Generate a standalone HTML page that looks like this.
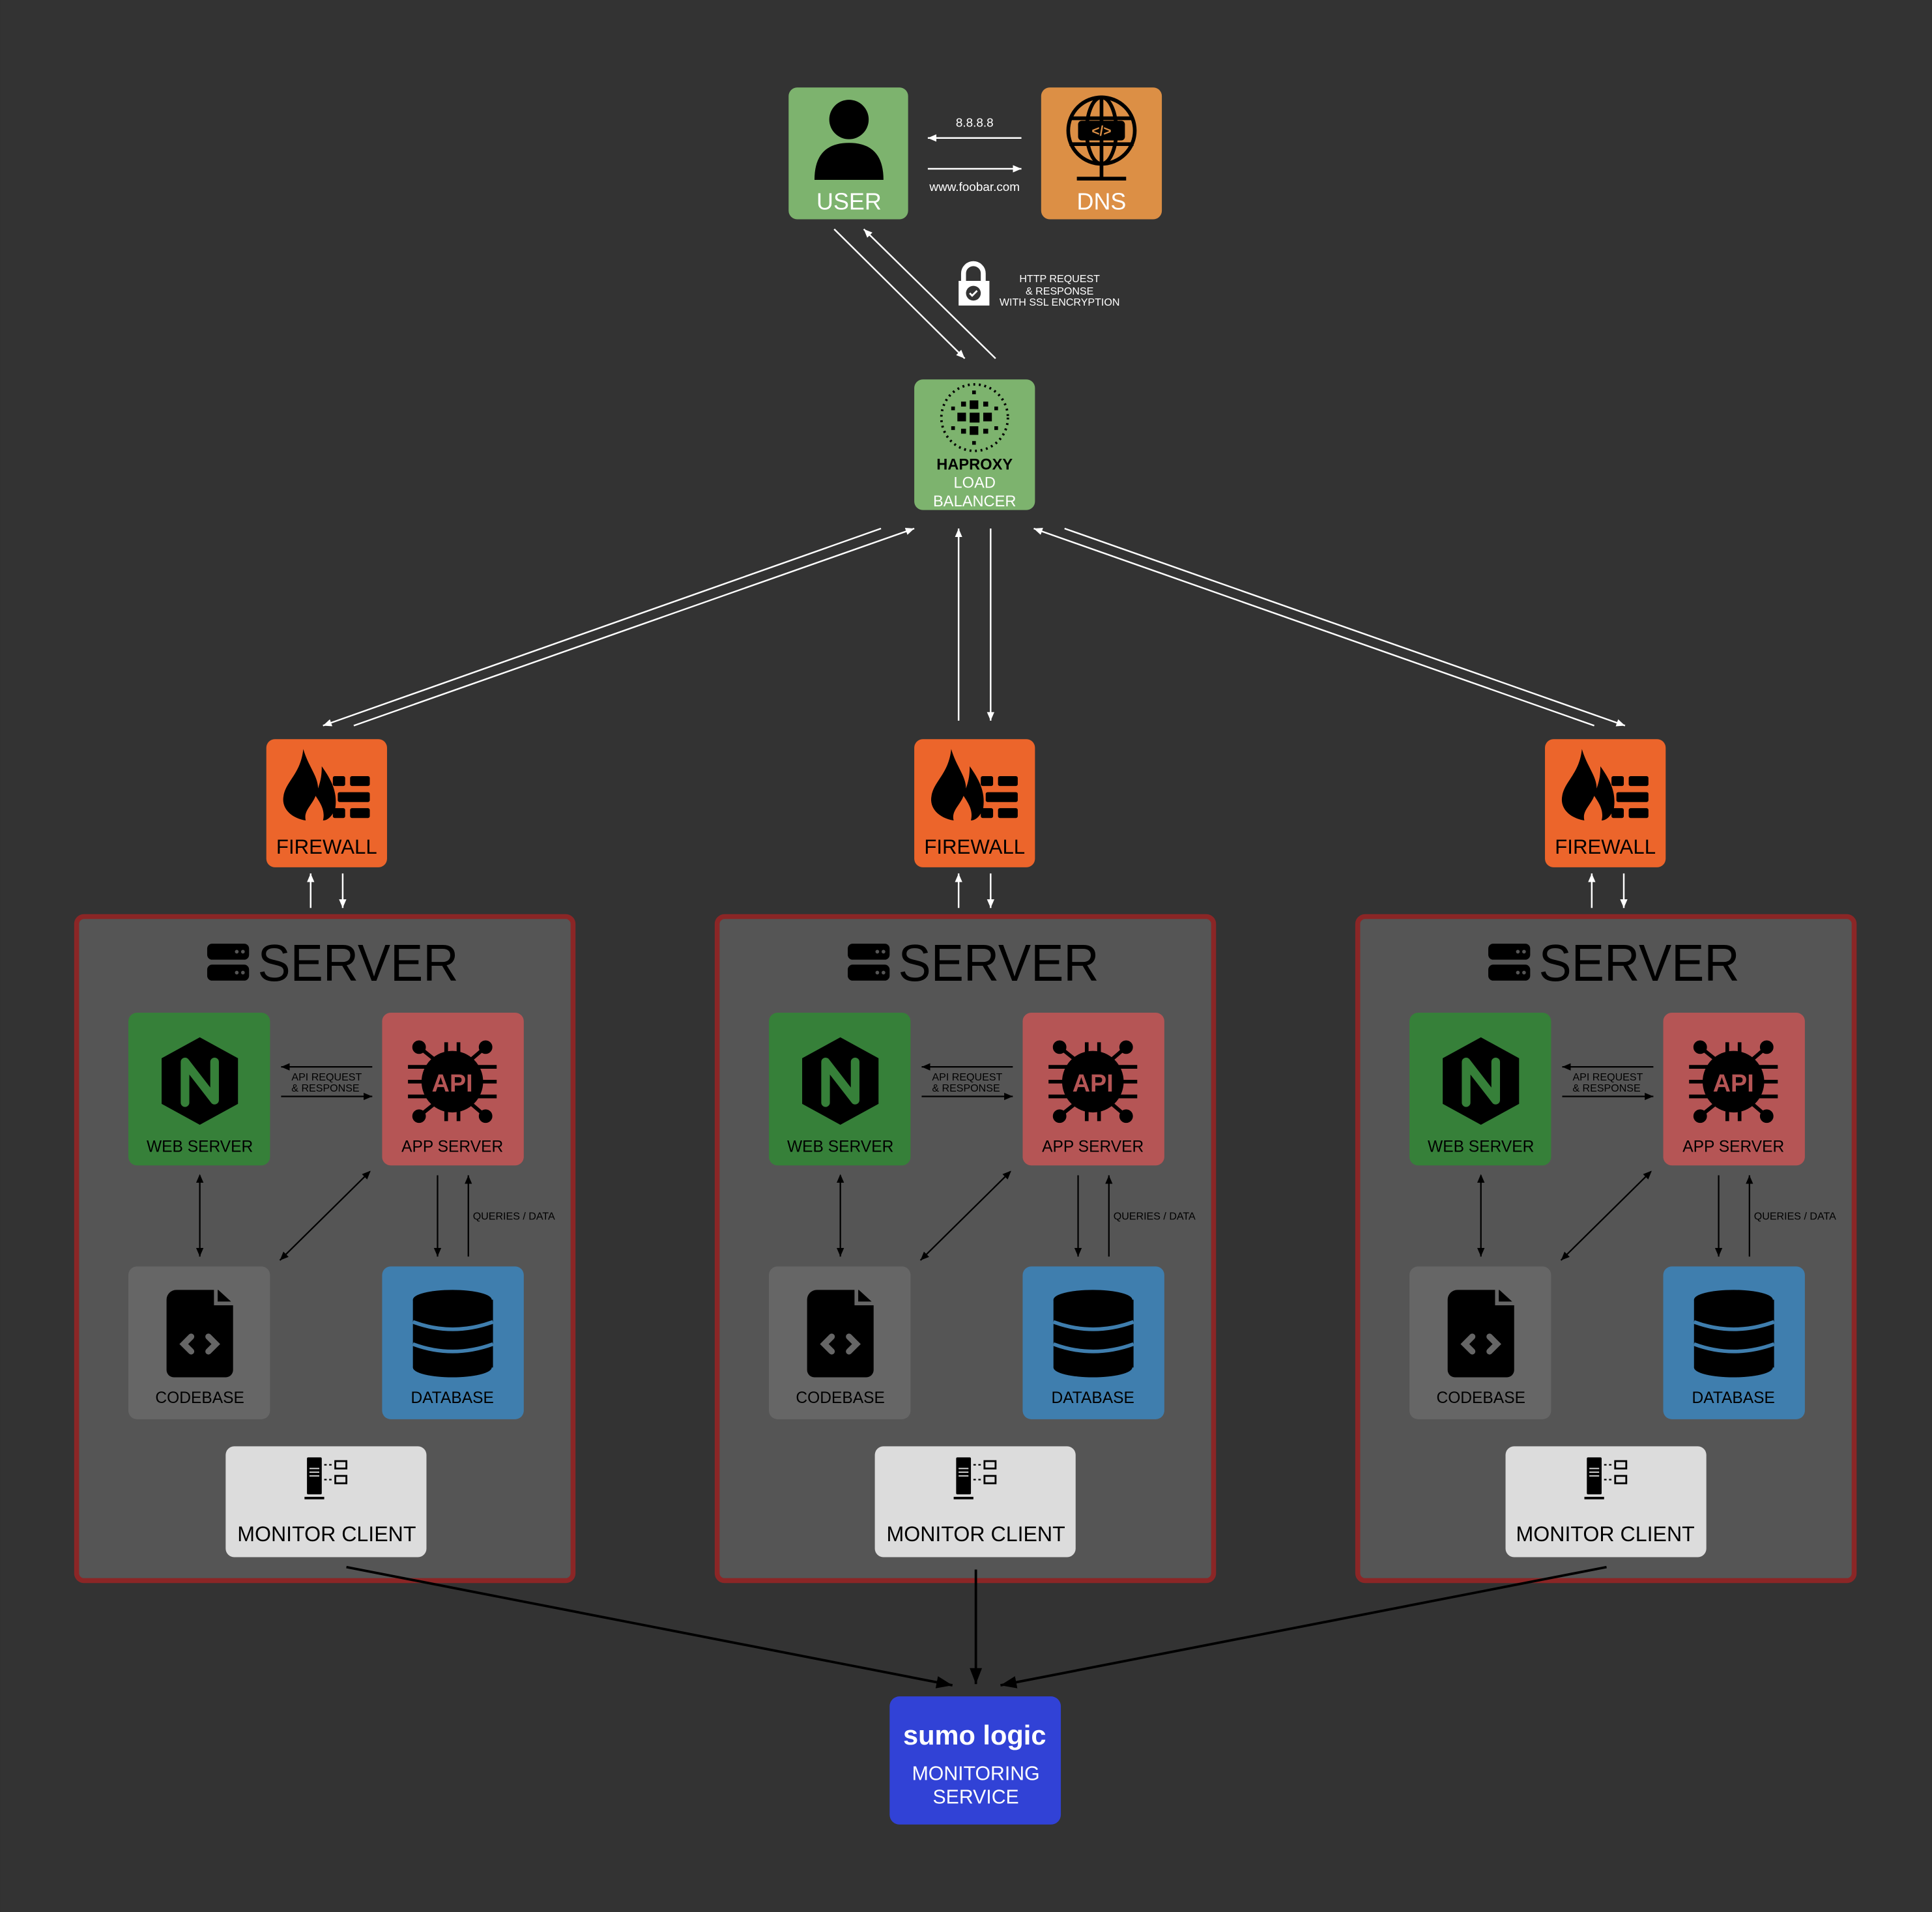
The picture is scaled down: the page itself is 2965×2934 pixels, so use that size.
<!DOCTYPE html>
<html><head><meta charset="utf-8"><style>html,body{margin:0;padding:0;background:#333}svg{display:block}text{font-family:"Liberation Sans",sans-serif}</style></head>
<body>
<svg width="2965" height="2934" viewBox="0 0 1568 1552" xmlns="http://www.w3.org/2000/svg">
<defs>
<marker id="aw" markerUnits="userSpaceOnUse" markerWidth="8" markerHeight="8" refX="7" refY="4" orient="auto"><path d="M0,1 L7,4 L0,7 Z" fill="#fff"/></marker>
<marker id="ab" markerUnits="userSpaceOnUse" markerWidth="8" markerHeight="8" refX="7" refY="4" orient="auto"><path d="M0,1 L7,4 L0,7 Z" fill="#000"/></marker>
<marker id="abS" markerUnits="userSpaceOnUse" markerWidth="8" markerHeight="8" refX="1" refY="4" orient="auto"><path d="M7,1 L0,4 L7,7 Z" fill="#000"/></marker>
<marker id="abig" markerUnits="userSpaceOnUse" markerWidth="14" markerHeight="12" refX="13" refY="6" orient="auto"><path d="M0,1 L13,6 L0,11 Z" fill="#000"/></marker>
</defs>
<rect width="1568" height="1552" fill="#333"/>

<!-- USER -->
<rect x="640" y="71" width="97" height="107" rx="7" fill="#7db36e"/>
<circle cx="689" cy="97" r="16" fill="#000"/>
<path d="M661,146 Q661,116 689,116 Q717,116 717,146 Z" fill="#000"/>
<text x="689" y="170" font-size="19" fill="#fff" text-anchor="middle">USER</text>
<!-- DNS -->
<rect x="845" y="71" width="98" height="107" rx="7" fill="#dc8f45"/>
<g stroke="#000" stroke-width="3" fill="none">
<circle cx="894" cy="106" r="27"/><ellipse cx="894" cy="106" rx="12" ry="27"/><line x1="894" y1="79" x2="894" y2="145"/><line x1="868" y1="96" x2="920" y2="96"/><line x1="868" y1="117" x2="920" y2="117"/><line x1="874" y1="145" x2="914" y2="145"/></g>
<rect x="875" y="98" width="38" height="16" rx="3" fill="#000"/>
<text x="894" y="110" font-size="11" fill="#dc8f45" text-anchor="middle" font-weight="bold">&lt;/&gt;</text>
<text x="894" y="170" font-size="19" fill="#fff" text-anchor="middle">DNS</text>

<text x="791" y="103" font-size="10" fill="#fff" text-anchor="middle">8.8.8.8</text>
<line x1="829" y1="112" x2="753" y2="112" stroke="#fff" stroke-width="1.3" marker-end="url(#aw)"/>
<line x1="753" y1="137" x2="829" y2="137" stroke="#fff" stroke-width="1.3" marker-end="url(#aw)"/>
<text x="791" y="155" font-size="10" fill="#fff" text-anchor="middle">www.foobar.com</text>

<line x1="677" y1="186" x2="783" y2="291" stroke="#fff" stroke-width="1.3" marker-end="url(#aw)"/>
<line x1="808" y1="291" x2="701" y2="186" stroke="#fff" stroke-width="1.3" marker-end="url(#aw)"/>
<!-- lock -->
<path d="M782,228 V222 A8,8 0 0 1 798,222 V228" stroke="#fff" stroke-width="4" fill="none"/>
<rect x="778" y="228" width="25" height="20" fill="#fff"/>
<circle cx="790" cy="238" r="6" fill="#333"/>
<path d="M787,238 l2,2 l4,-4" stroke="#fff" stroke-width="1.5" fill="none"/>
<g font-size="8.5" fill="#fff" text-anchor="middle"><text x="860" y="229">HTTP REQUEST</text><text x="860" y="239">&amp; RESPONSE</text><text x="860" y="248">WITH SSL ENCRYPTION</text></g>

<!-- LB -->
<rect x="742" y="308" width="98" height="106" rx="7" fill="#7db36e"/>
<circle cx="791" cy="339" r="27" fill="none" stroke="#000" stroke-width="2" stroke-dasharray="1.5 3"/>
<g fill="#000"><rect x="787" y="335" width="8" height="8"/><rect x="777" y="335" width="7" height="7"/><rect x="798" y="335" width="7" height="7"/><rect x="787" y="325" width="7" height="7"/><rect x="787" y="346" width="7" height="7"/><rect x="780" y="326" width="4" height="4"/><rect x="798" y="326" width="4" height="4"/><rect x="780" y="348" width="4" height="4"/><rect x="798" y="348" width="4" height="4"/><rect x="772" y="330" width="3" height="3"/><rect x="807" y="330" width="3" height="3"/><rect x="772" y="346" width="3" height="3"/><rect x="807" y="346" width="3" height="3"/><rect x="789" y="317" width="3" height="3"/><rect x="789" y="358" width="3" height="3"/></g>
<text x="791" y="381" font-size="12.5" font-weight="bold" fill="#000" text-anchor="middle">HAPROXY</text>
<text x="791" y="396" font-size="12.5" fill="#fff" text-anchor="middle">LOAD</text>
<text x="791" y="411" font-size="12.5" fill="#fff" text-anchor="middle">BALANCER</text>

<g stroke="#fff" stroke-width="1.3">
<line x1="715" y1="429" x2="262" y2="589" marker-end="url(#aw)"/>
<line x1="287" y1="589" x2="742" y2="429" marker-end="url(#aw)"/>
<line x1="778" y1="585" x2="778" y2="429" marker-end="url(#aw)"/>
<line x1="804" y1="429" x2="804" y2="585" marker-end="url(#aw)"/>
<line x1="864" y1="429" x2="1319" y2="589" marker-end="url(#aw)"/>
<line x1="1294" y1="589" x2="839" y2="429" marker-end="url(#aw)"/>
<line x1="252" y1="737" x2="252" y2="709" marker-end="url(#aw)"/>
<line x1="278" y1="709" x2="278" y2="737" marker-end="url(#aw)"/>
<line x1="778" y1="737" x2="778" y2="709" marker-end="url(#aw)"/>
<line x1="804" y1="709" x2="804" y2="737" marker-end="url(#aw)"/>
<line x1="1292" y1="737" x2="1292" y2="709" marker-end="url(#aw)"/>
<line x1="1318" y1="709" x2="1318" y2="737" marker-end="url(#aw)"/>
</g>

<!-- Firewalls -->
<g transform="translate(216,600)">
<rect width="98" height="104" rx="7" fill="#ec652b"/>
<path d="M30,8 C34,22 42,30 42,40 C44,34 45,30 45,22 C52,32 58,42 56,56 C54,62 50,66 46,66 C48,58 44,52 40,46 C37,54 30,58 32,66 C20,64 12,56 14,46 C16,34 28,28 30,8 Z" fill="#000"/>
<g fill="#000"><rect x="54" y="30" width="10" height="8" rx="1.5"/><rect x="68" y="30" width="16" height="8" rx="1.5"/><rect x="58" y="43" width="26" height="8" rx="1.5"/><rect x="54" y="56" width="10" height="8" rx="1.5"/><rect x="68" y="56" width="16" height="8" rx="1.5"/></g>
<text x="49" y="93" font-size="16.5" fill="#000" text-anchor="middle">FIREWALL</text>
</g>
<g transform="translate(742,600)">
<rect width="98" height="104" rx="7" fill="#ec652b"/>
<path d="M30,8 C34,22 42,30 42,40 C44,34 45,30 45,22 C52,32 58,42 56,56 C54,62 50,66 46,66 C48,58 44,52 40,46 C37,54 30,58 32,66 C20,64 12,56 14,46 C16,34 28,28 30,8 Z" fill="#000"/>
<g fill="#000"><rect x="54" y="30" width="10" height="8" rx="1.5"/><rect x="68" y="30" width="16" height="8" rx="1.5"/><rect x="58" y="43" width="26" height="8" rx="1.5"/><rect x="54" y="56" width="10" height="8" rx="1.5"/><rect x="68" y="56" width="16" height="8" rx="1.5"/></g>
<text x="49" y="93" font-size="16.5" fill="#000" text-anchor="middle">FIREWALL</text>
</g>
<g transform="translate(1254,600)">
<rect width="98" height="104" rx="7" fill="#ec652b"/>
<path d="M30,8 C34,22 42,30 42,40 C44,34 45,30 45,22 C52,32 58,42 56,56 C54,62 50,66 46,66 C48,58 44,52 40,46 C37,54 30,58 32,66 C20,64 12,56 14,46 C16,34 28,28 30,8 Z" fill="#000"/>
<g fill="#000"><rect x="54" y="30" width="10" height="8" rx="1.5"/><rect x="68" y="30" width="16" height="8" rx="1.5"/><rect x="58" y="43" width="26" height="8" rx="1.5"/><rect x="54" y="56" width="10" height="8" rx="1.5"/><rect x="68" y="56" width="16" height="8" rx="1.5"/></g>
<text x="49" y="93" font-size="16.5" fill="#000" text-anchor="middle">FIREWALL</text>
</g>

<!-- SERVER 1 -->
<g>
<rect x="62" y="744" width="403" height="539" rx="6" fill="#555" stroke="#8b2626" stroke-width="4"/>
<rect x="168" y="766" width="34" height="13" rx="4" fill="#000"/><rect x="168" y="783" width="34" height="13" rx="4" fill="#000"/>
<g fill="#555"><circle cx="192" cy="772.5" r="1.5"/><circle cx="197" cy="772.5" r="1.5"/><circle cx="192" cy="789.5" r="1.5"/><circle cx="197" cy="789.5" r="1.5"/></g>
<text x="209" y="796" font-size="42" fill="#000" textLength="163" lengthAdjust="spacingAndGlyphs">SERVER</text>
<rect x="104" y="822" width="115" height="124" rx="7" fill="#368039"/>
<path d="M162,842 L193,859 L193,896 L162,913 L131,896 L131,859 Z" fill="#000"/>
<path d="M150,895 V862 L174,893 V862" stroke="#368039" stroke-width="7" fill="none" stroke-linecap="round" stroke-linejoin="round"/>
<text x="162" y="935" font-size="13" fill="#000" text-anchor="middle">WEB SERVER</text>
<rect x="310" y="822" width="115" height="124" rx="7" fill="#b55555"/>
<g stroke="#000" stroke-width="3" fill="#000"><line x1="331" y1="866" x2="403" y2="866"/><line x1="331" y1="878" x2="403" y2="878"/><line x1="331" y1="890" x2="403" y2="890"/><line x1="362" y1="846" x2="362" y2="910"/><line x1="372" y1="846" x2="372" y2="910"/><circle cx="340" cy="850" r="4"/><circle cx="394" cy="850" r="4"/><circle cx="340" cy="906" r="4"/><circle cx="394" cy="906" r="4"/><line x1="340" y1="850" x2="355" y2="862"/><line x1="394" y1="850" x2="380" y2="862"/><line x1="340" y1="906" x2="355" y2="894"/><line x1="394" y1="906" x2="380" y2="894"/></g>
<circle cx="367" cy="878" r="25" fill="#000"/>
<text x="367" y="886" font-size="20" font-weight="bold" fill="#b55555" text-anchor="middle">API</text>
<text x="367" y="935" font-size="13" fill="#000" text-anchor="middle">APP SERVER</text>
<rect x="104" y="1028" width="115" height="124" rx="7" fill="#666"/>
<path d="M143,1047 H177 L189,1058 V1112 A6,6 0 0 1 183,1118 H141 A6,6 0 0 1 135,1112 V1055 A8,8 0 0 1 143,1047 Z" fill="#000"/>
<path d="M175,1046 V1058 H190" stroke="#666" stroke-width="3" fill="none"/>
<path d="M155,1085 l-6,6 l6,6 M169,1085 l6,6 l-6,6" stroke="#666" stroke-width="5" fill="none" stroke-linecap="round"/>
<text x="162" y="1139" font-size="13" fill="#000" text-anchor="middle">CODEBASE</text>
<rect x="310" y="1028" width="115" height="124" rx="7" fill="#3f7eae"/>
<rect x="335" y="1055" width="65" height="55" fill="#000"/>
<ellipse cx="367" cy="1055" rx="32" ry="8" fill="#000"/>
<ellipse cx="367" cy="1110" rx="32" ry="8" fill="#000"/>
<path d="M335,1073 Q367,1085 400,1073 M335,1091 Q367,1103 400,1091" stroke="#3f7eae" stroke-width="3" fill="none"/>
<text x="367" y="1139" font-size="13" fill="#000" text-anchor="middle">DATABASE</text>
<rect x="183" y="1174" width="163" height="90" rx="7" fill="#dcdcdc"/>
<rect x="249" y="1183" width="12" height="30" rx="1" fill="#000"/><rect x="247" y="1215" width="16" height="2" fill="#000"/>
<g stroke="#dcdcdc" stroke-width="1"><line x1="251" y1="1192" x2="259" y2="1192"/><line x1="251" y1="1195" x2="259" y2="1195"/><line x1="251" y1="1198" x2="259" y2="1198"/></g>
<rect x="272" y="1186" width="9" height="6" fill="none" stroke="#000" stroke-width="1.5"/><rect x="272" y="1198" width="9" height="6" fill="none" stroke="#000" stroke-width="1.5"/>
<path d="M263,1189 h8 M263,1201 h8" stroke="#000" stroke-width="1.2" stroke-dasharray="2 2"/>
<text x="265" y="1251" font-size="17" fill="#000" text-anchor="middle">MONITOR CLIENT</text>
<g stroke="#000" stroke-width="1.2">
<line x1="302" y1="866" x2="228" y2="866" marker-end="url(#ab)"/>
<line x1="228" y1="890" x2="302" y2="890" marker-end="url(#ab)"/>
<line x1="162" y1="954" x2="162" y2="1020" marker-start="url(#abS)" marker-end="url(#ab)"/>
<line x1="300" y1="951" x2="227" y2="1023" marker-start="url(#abS)" marker-end="url(#ab)"/>
<line x1="355" y1="954" x2="355" y2="1020" marker-end="url(#ab)"/>
<line x1="380" y1="1020" x2="380" y2="954" marker-end="url(#ab)"/>
</g>
<g font-size="8.5" fill="#000" text-anchor="middle"><text x="265" y="877">API REQUEST</text><text x="264" y="886">&amp; RESPONSE</text></g>
<text x="417" y="990" font-size="8.5" fill="#000" text-anchor="middle">QUERIES / DATA</text>
</g>

<!-- SERVER 2 -->
<g transform="translate(520,0)">
<rect x="62" y="744" width="403" height="539" rx="6" fill="#555" stroke="#8b2626" stroke-width="4"/>
<rect x="168" y="766" width="34" height="13" rx="4" fill="#000"/><rect x="168" y="783" width="34" height="13" rx="4" fill="#000"/>
<g fill="#555"><circle cx="192" cy="772.5" r="1.5"/><circle cx="197" cy="772.5" r="1.5"/><circle cx="192" cy="789.5" r="1.5"/><circle cx="197" cy="789.5" r="1.5"/></g>
<text x="209" y="796" font-size="42" fill="#000" textLength="163" lengthAdjust="spacingAndGlyphs">SERVER</text>
<rect x="104" y="822" width="115" height="124" rx="7" fill="#368039"/>
<path d="M162,842 L193,859 L193,896 L162,913 L131,896 L131,859 Z" fill="#000"/>
<path d="M150,895 V862 L174,893 V862" stroke="#368039" stroke-width="7" fill="none" stroke-linecap="round" stroke-linejoin="round"/>
<text x="162" y="935" font-size="13" fill="#000" text-anchor="middle">WEB SERVER</text>
<rect x="310" y="822" width="115" height="124" rx="7" fill="#b55555"/>
<g stroke="#000" stroke-width="3" fill="#000"><line x1="331" y1="866" x2="403" y2="866"/><line x1="331" y1="878" x2="403" y2="878"/><line x1="331" y1="890" x2="403" y2="890"/><line x1="362" y1="846" x2="362" y2="910"/><line x1="372" y1="846" x2="372" y2="910"/><circle cx="340" cy="850" r="4"/><circle cx="394" cy="850" r="4"/><circle cx="340" cy="906" r="4"/><circle cx="394" cy="906" r="4"/><line x1="340" y1="850" x2="355" y2="862"/><line x1="394" y1="850" x2="380" y2="862"/><line x1="340" y1="906" x2="355" y2="894"/><line x1="394" y1="906" x2="380" y2="894"/></g>
<circle cx="367" cy="878" r="25" fill="#000"/>
<text x="367" y="886" font-size="20" font-weight="bold" fill="#b55555" text-anchor="middle">API</text>
<text x="367" y="935" font-size="13" fill="#000" text-anchor="middle">APP SERVER</text>
<rect x="104" y="1028" width="115" height="124" rx="7" fill="#666"/>
<path d="M143,1047 H177 L189,1058 V1112 A6,6 0 0 1 183,1118 H141 A6,6 0 0 1 135,1112 V1055 A8,8 0 0 1 143,1047 Z" fill="#000"/>
<path d="M175,1046 V1058 H190" stroke="#666" stroke-width="3" fill="none"/>
<path d="M155,1085 l-6,6 l6,6 M169,1085 l6,6 l-6,6" stroke="#666" stroke-width="5" fill="none" stroke-linecap="round"/>
<text x="162" y="1139" font-size="13" fill="#000" text-anchor="middle">CODEBASE</text>
<rect x="310" y="1028" width="115" height="124" rx="7" fill="#3f7eae"/>
<rect x="335" y="1055" width="65" height="55" fill="#000"/>
<ellipse cx="367" cy="1055" rx="32" ry="8" fill="#000"/>
<ellipse cx="367" cy="1110" rx="32" ry="8" fill="#000"/>
<path d="M335,1073 Q367,1085 400,1073 M335,1091 Q367,1103 400,1091" stroke="#3f7eae" stroke-width="3" fill="none"/>
<text x="367" y="1139" font-size="13" fill="#000" text-anchor="middle">DATABASE</text>
<rect x="190" y="1174" width="163" height="90" rx="7" fill="#dcdcdc"/>
<rect x="256" y="1183" width="12" height="30" rx="1" fill="#000"/><rect x="254" y="1215" width="16" height="2" fill="#000"/>
<g stroke="#dcdcdc" stroke-width="1"><line x1="258" y1="1192" x2="266" y2="1192"/><line x1="258" y1="1195" x2="266" y2="1195"/><line x1="258" y1="1198" x2="266" y2="1198"/></g>
<rect x="279" y="1186" width="9" height="6" fill="none" stroke="#000" stroke-width="1.5"/><rect x="279" y="1198" width="9" height="6" fill="none" stroke="#000" stroke-width="1.5"/>
<path d="M270,1189 h8 M270,1201 h8" stroke="#000" stroke-width="1.2" stroke-dasharray="2 2"/>
<text x="272" y="1251" font-size="17" fill="#000" text-anchor="middle">MONITOR CLIENT</text>
<g stroke="#000" stroke-width="1.2">
<line x1="302" y1="866" x2="228" y2="866" marker-end="url(#ab)"/>
<line x1="228" y1="890" x2="302" y2="890" marker-end="url(#ab)"/>
<line x1="162" y1="954" x2="162" y2="1020" marker-start="url(#abS)" marker-end="url(#ab)"/>
<line x1="300" y1="951" x2="227" y2="1023" marker-start="url(#abS)" marker-end="url(#ab)"/>
<line x1="355" y1="954" x2="355" y2="1020" marker-end="url(#ab)"/>
<line x1="380" y1="1020" x2="380" y2="954" marker-end="url(#ab)"/>
</g>
<g font-size="8.5" fill="#000" text-anchor="middle"><text x="265" y="877">API REQUEST</text><text x="264" y="886">&amp; RESPONSE</text></g>
<text x="417" y="990" font-size="8.5" fill="#000" text-anchor="middle">QUERIES / DATA</text>
</g>

<!-- SERVER 3 -->
<g transform="translate(1040,0)">
<rect x="62" y="744" width="403" height="539" rx="6" fill="#555" stroke="#8b2626" stroke-width="4"/>
<rect x="168" y="766" width="34" height="13" rx="4" fill="#000"/><rect x="168" y="783" width="34" height="13" rx="4" fill="#000"/>
<g fill="#555"><circle cx="192" cy="772.5" r="1.5"/><circle cx="197" cy="772.5" r="1.5"/><circle cx="192" cy="789.5" r="1.5"/><circle cx="197" cy="789.5" r="1.5"/></g>
<text x="209" y="796" font-size="42" fill="#000" textLength="163" lengthAdjust="spacingAndGlyphs">SERVER</text>
<rect x="104" y="822" width="115" height="124" rx="7" fill="#368039"/>
<path d="M162,842 L193,859 L193,896 L162,913 L131,896 L131,859 Z" fill="#000"/>
<path d="M150,895 V862 L174,893 V862" stroke="#368039" stroke-width="7" fill="none" stroke-linecap="round" stroke-linejoin="round"/>
<text x="162" y="935" font-size="13" fill="#000" text-anchor="middle">WEB SERVER</text>
<rect x="310" y="822" width="115" height="124" rx="7" fill="#b55555"/>
<g stroke="#000" stroke-width="3" fill="#000"><line x1="331" y1="866" x2="403" y2="866"/><line x1="331" y1="878" x2="403" y2="878"/><line x1="331" y1="890" x2="403" y2="890"/><line x1="362" y1="846" x2="362" y2="910"/><line x1="372" y1="846" x2="372" y2="910"/><circle cx="340" cy="850" r="4"/><circle cx="394" cy="850" r="4"/><circle cx="340" cy="906" r="4"/><circle cx="394" cy="906" r="4"/><line x1="340" y1="850" x2="355" y2="862"/><line x1="394" y1="850" x2="380" y2="862"/><line x1="340" y1="906" x2="355" y2="894"/><line x1="394" y1="906" x2="380" y2="894"/></g>
<circle cx="367" cy="878" r="25" fill="#000"/>
<text x="367" y="886" font-size="20" font-weight="bold" fill="#b55555" text-anchor="middle">API</text>
<text x="367" y="935" font-size="13" fill="#000" text-anchor="middle">APP SERVER</text>
<rect x="104" y="1028" width="115" height="124" rx="7" fill="#666"/>
<path d="M143,1047 H177 L189,1058 V1112 A6,6 0 0 1 183,1118 H141 A6,6 0 0 1 135,1112 V1055 A8,8 0 0 1 143,1047 Z" fill="#000"/>
<path d="M175,1046 V1058 H190" stroke="#666" stroke-width="3" fill="none"/>
<path d="M155,1085 l-6,6 l6,6 M169,1085 l6,6 l-6,6" stroke="#666" stroke-width="5" fill="none" stroke-linecap="round"/>
<text x="162" y="1139" font-size="13" fill="#000" text-anchor="middle">CODEBASE</text>
<rect x="310" y="1028" width="115" height="124" rx="7" fill="#3f7eae"/>
<rect x="335" y="1055" width="65" height="55" fill="#000"/>
<ellipse cx="367" cy="1055" rx="32" ry="8" fill="#000"/>
<ellipse cx="367" cy="1110" rx="32" ry="8" fill="#000"/>
<path d="M335,1073 Q367,1085 400,1073 M335,1091 Q367,1103 400,1091" stroke="#3f7eae" stroke-width="3" fill="none"/>
<text x="367" y="1139" font-size="13" fill="#000" text-anchor="middle">DATABASE</text>
<rect x="182" y="1174" width="163" height="90" rx="7" fill="#dcdcdc"/>
<rect x="248" y="1183" width="12" height="30" rx="1" fill="#000"/><rect x="246" y="1215" width="16" height="2" fill="#000"/>
<g stroke="#dcdcdc" stroke-width="1"><line x1="250" y1="1192" x2="258" y2="1192"/><line x1="250" y1="1195" x2="258" y2="1195"/><line x1="250" y1="1198" x2="258" y2="1198"/></g>
<rect x="271" y="1186" width="9" height="6" fill="none" stroke="#000" stroke-width="1.5"/><rect x="271" y="1198" width="9" height="6" fill="none" stroke="#000" stroke-width="1.5"/>
<path d="M262,1189 h8 M262,1201 h8" stroke="#000" stroke-width="1.2" stroke-dasharray="2 2"/>
<text x="263" y="1251" font-size="17" fill="#000" text-anchor="middle">MONITOR CLIENT</text>
<g stroke="#000" stroke-width="1.2">
<line x1="302" y1="866" x2="228" y2="866" marker-end="url(#ab)"/>
<line x1="228" y1="890" x2="302" y2="890" marker-end="url(#ab)"/>
<line x1="162" y1="954" x2="162" y2="1020" marker-start="url(#abS)" marker-end="url(#ab)"/>
<line x1="300" y1="951" x2="227" y2="1023" marker-start="url(#abS)" marker-end="url(#ab)"/>
<line x1="355" y1="954" x2="355" y2="1020" marker-end="url(#ab)"/>
<line x1="380" y1="1020" x2="380" y2="954" marker-end="url(#ab)"/>
</g>
<g font-size="8.5" fill="#000" text-anchor="middle"><text x="265" y="877">API REQUEST</text><text x="264" y="886">&amp; RESPONSE</text></g>
<text x="417" y="990" font-size="8.5" fill="#000" text-anchor="middle">QUERIES / DATA</text>
</g>

<g stroke="#000" stroke-width="2">
<line x1="281" y1="1272" x2="773" y2="1368" marker-end="url(#abig)"/>
<line x1="792" y1="1274" x2="792" y2="1367" marker-end="url(#abig)"/>
<line x1="1304" y1="1272" x2="812" y2="1368" marker-end="url(#abig)"/>
</g>

<rect x="722" y="1377" width="139" height="104" rx="8" fill="#3142d6"/>
<text x="791" y="1416" font-size="22" font-weight="bold" fill="#fff" text-anchor="middle">sumo logic</text>
<text x="792" y="1445" font-size="16" fill="#fff" text-anchor="middle">MONITORING</text>
<text x="792" y="1464" font-size="16" fill="#fff" text-anchor="middle">SERVICE</text>
</svg>
</body></html>
